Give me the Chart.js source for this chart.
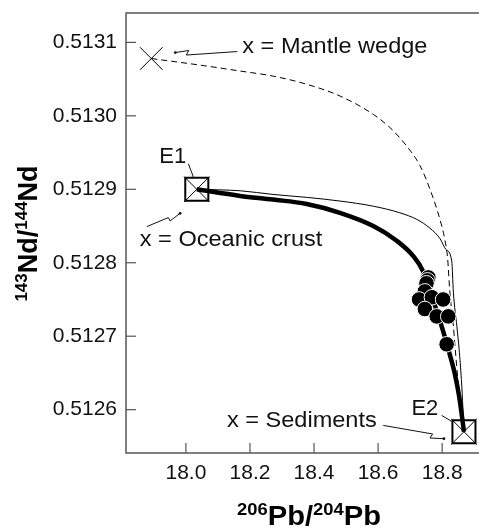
<!DOCTYPE html>
<html><head><meta charset="utf-8">
<script src="https://cdn.jsdelivr.net/npm/chart.js@4"></script>
<style>html,body{margin:0;padding:0;background:#fff;} #wrap{width:479px;height:528px;}</style>
</head><body>
<div id="wrap"><canvas id="c" width="479" height="528"></canvas></div>
<script>
// ---- tick labels / ranges ----
const xTicks = [18.0, 18.2, 18.4, 18.6, 18.8];
const yTicks = [0.5126, 0.5127, 0.5128, 0.5129, 0.5130, 0.5131];
const xRange = [17.813, 18.915];
const yRange = [0.512541, 0.51314];

// ---- end members ----
const mantleX = [17.892];
const mantleY = [0.513078];
const e1X = [18.034];
const e1Y = [0.5129];
const e2X = [18.868];
const e2Y = [0.51257];

// ---- mixing curves ----
const dashedX = [17.892, 18.045, 18.169, 18.273, 18.377, 18.481, 18.585, 18.637, 18.689, 18.731, 18.762, 18.793, 18.809, 18.817, 18.824, 18.835, 18.840, 18.849, 18.859, 18.868];
const dashedY = [0.513078, 0.513069, 0.513061, 0.513054, 0.513043, 0.513027, 0.513002, 0.512984, 0.512959, 0.512932, 0.512900, 0.512859, 0.512830, 0.512806, 0.512760, 0.512714, 0.512687, 0.512641, 0.512600, 0.512570];

const thinX = [18.034, 18.169, 18.272, 18.377, 18.481, 18.585, 18.668, 18.721, 18.762, 18.793, 18.812, 18.830, 18.835, 18.846, 18.853, 18.860, 18.865, 18.868];
const thinY = [0.512900, 0.512898, 0.512893, 0.512889, 0.512884, 0.512877, 0.512868, 0.512859, 0.512847, 0.512833, 0.512818, 0.512802, 0.512760, 0.512713, 0.512682, 0.512641, 0.512600, 0.512570];

const thickX = [18.034, 18.169, 18.272, 18.377, 18.481, 18.585, 18.658, 18.710, 18.741, 18.771, 18.803, 18.824, 18.840, 18.853, 18.866, 18.868];
const thickY = [0.512900, 0.512891, 0.512886, 0.512880, 0.512868, 0.512850, 0.512830, 0.512809, 0.512788, 0.512750, 0.512707, 0.512675, 0.512648, 0.512618, 0.512577, 0.512570];

// ---- samples ----
const sampleX = [18.757, 18.754, 18.751, 18.746, 18.728, 18.768, 18.803, 18.746, 18.783, 18.819, 18.814];
const sampleY = [0.512780, 0.512776, 0.512772, 0.512761, 0.512750, 0.512753, 0.512750, 0.512737, 0.512727, 0.512727, 0.512689];

const zip = (xs, ys) => xs.map((x, i) => ({x: x, y: ys[i]}));

const FONT = "'Liberation Sans', Arial, Helvetica, sans-serif";
const AXIS_GRAY = '#555';

function drawRich(ctx, parts, sx) {
  let total = 0;
  parts.forEach(p => { ctx.font = p.font; p.w = ctx.measureText(p.t).width; total += p.w; });
  ctx.save();
  ctx.scale(sx, 1);
  let x = -total / 2;
  ctx.textAlign = 'left';
  ctx.textBaseline = 'alphabetic';
  parts.forEach(p => { ctx.font = p.font; ctx.fillText(p.t, x, p.dy); x += p.w; });
  ctx.restore();
}

function annText(ctx, text, x, y, sx) {
  ctx.save();
  ctx.translate(x, y);
  ctx.scale(sx, 1);
  ctx.textAlign = 'left';
  ctx.textBaseline = 'alphabetic';
  ctx.fillText(text, 0, 0);
  ctx.restore();
}

function poly(ctx, pts) {
  ctx.beginPath();
  ctx.moveTo(pts[0][0], pts[0][1]);
  for (let i = 1; i < pts.length; i++) ctx.lineTo(pts[i][0], pts[i][1]);
  ctx.stroke();
}

function noPad(s) { s.paddingTop = 0; s.paddingBottom = 0; s.paddingLeft = 0; s.paddingRight = 0; }

const decor = {
  id: 'decor',
  afterDraw(chart) {
    const ctx = chart.ctx;
    const a = chart.chartArea;
    const xs = chart.scales.x, ys = chart.scales.y;
    ctx.save();
    // frame
    ctx.strokeStyle = AXIS_GRAY;
    ctx.lineWidth = 1.5;
    ctx.beginPath();
    ctx.moveTo(chart.width, a.top); ctx.lineTo(a.left, a.top);
    ctx.lineTo(a.left, a.bottom); ctx.lineTo(chart.width, a.bottom);
    ctx.stroke();
    // inward ticks
    ctx.lineWidth = 1.2;
    xTicks.forEach(v => {
      const p = xs.getPixelForValue(v);
      ctx.beginPath(); ctx.moveTo(p, a.bottom); ctx.lineTo(p, a.bottom - 10); ctx.stroke();
    });
    yTicks.forEach(v => {
      const p = ys.getPixelForValue(v);
      ctx.beginPath(); ctx.moveTo(a.left, p); ctx.lineTo(a.left + 10, p); ctx.stroke();
    });

    // annotations
    ctx.fillStyle = '#111';
    ctx.strokeStyle = '#111';
    ctx.lineWidth = 1;
    ctx.font = '22px ' + FONT;
    const mx = xs.getPixelForValue(mantleX[0]), my = ys.getPixelForValue(mantleY[0]);
    const ax = xs.getPixelForValue(e1X[0]), ay = ys.getPixelForValue(e1Y[0]);
    const bx = xs.getPixelForValue(e2X[0]), by = ys.getPixelForValue(e2Y[0]);

    annText(ctx, 'x = Mantle wedge', mx + 91, my - 6, 1.07);
    poly(ctx, [[mx + 86, my - 7], [mx + 35, my - 3.5], [mx + 37.5, my - 8], [mx + 24, my - 6]]);
    ctx.beginPath(); ctx.arc(mx + 24, my - 6, 1.4, 0, Math.PI * 2); ctx.fill();

    annText(ctx, 'E1', ax - 37.5, ay - 26.5, 1.0);
    poly(ctx, [[ax - 8.4, ay - 25.5], [ax - 3.4, ay - 12.3]]);
    annText(ctx, 'x = Oceanic crust', ax - 57, ay + 56.5, 1.07);
    poly(ctx, [[ax - 50, ay + 37.3], [ax - 28.4, ay + 28.3], [ax - 26.7, ay + 31.7], [ax - 16.7, ay + 24]]);
    ctx.beginPath(); ctx.arc(ax - 16.7, ay + 24, 1.4, 0, Math.PI * 2); ctx.fill();

    annText(ctx, 'E2', bx - 52.5, by - 16.3, 1.0);
    poly(ctx, [[bx - 22.3, by - 16.3], [bx - 12.3, by - 10.3]]);
    annText(ctx, 'x = Sediments', bx - 237, by - 5, 1.07);
    poly(ctx, [[bx - 80.7, by - 6.3], [bx - 31.3, by + 2.3], [bx - 34, by + 6.3], [bx - 20, by + 7]]);
    ctx.beginPath(); ctx.arc(bx - 20, by + 7, 1.4, 0, Math.PI * 2); ctx.fill();

    // axis titles
    ctx.fillStyle = '#000';
    const big = 'bold 27px ' + FONT, sup = 'bold 17px ' + FONT;
    ctx.save();
    ctx.translate(309, 525);
    drawRich(ctx, [{t: '206', font: sup, dy: -10}, {t: 'Pb/', font: big, dy: 0}, {t: '204', font: sup, dy: -10}, {t: 'Pb', font: big, dy: 0}], 1.08);
    ctx.restore();
    ctx.save();
    ctx.translate(37, 233.5);
    ctx.rotate(-Math.PI / 2);
    drawRich(ctx, [{t: '143', font: sup, dy: -10}, {t: 'Nd/', font: big, dy: 0}, {t: '144', font: sup, dy: -10}, {t: 'Nd', font: big, dy: 0}], 1.0);
    ctx.restore();
    ctx.restore();
  }
};

new Chart(document.getElementById('c'), {
  type: 'scatter',
  data: {
    datasets: [
      {label: 'Mantle wedge–sediments', data: zip(dashedX, dashedY), showLine: true, borderColor: '#000', borderWidth: 1, borderDash: [6, 4], pointRadius: 0, cubicInterpolationMode: 'monotone', fill: false, order: 5},
      {label: 'E1–E2 thin', data: zip(thinX, thinY), showLine: true, borderColor: '#000', borderWidth: 1, pointRadius: 0, cubicInterpolationMode: 'monotone', fill: false, order: 5},
      {label: 'E1–E2 thick', data: zip(thickX, thickY), showLine: true, borderColor: '#000', borderWidth: 4.5, pointRadius: 0, cubicInterpolationMode: 'monotone', fill: false, order: 4},
      {label: 'Samples', data: zip(sampleX, sampleY), pointStyle: 'circle', pointRadius: 7.8, backgroundColor: '#000', borderColor: '#fff', borderWidth: 1, order: 3},
      {label: 'Mantle wedge', data: zip(mantleX, mantleY), pointStyle: 'crossRot', pointRadius: 16, borderColor: '#000', borderWidth: 1, order: 2},
      {label: 'E1/E2 box', data: zip(e1X.concat(e2X), e1Y.concat(e2Y)), pointStyle: 'rect', pointRadius: 16.3, borderColor: '#000', backgroundColor: 'rgba(0,0,0,0)', borderWidth: 2, order: 1},
      {label: 'E1/E2 cross', data: zip(e1X.concat(e2X), e1Y.concat(e2Y)), pointStyle: 'crossRot', pointRadius: 18, borderColor: '#000', borderWidth: 1, order: 1}
    ]
  },
  options: {
    responsive: false,
    devicePixelRatio: 1,
    animation: false,
    events: [],
    layout: {autoPadding: false, padding: {top: 13, right: 0, left: 0, bottom: 0}},
    plugins: {legend: {display: false}, tooltip: {enabled: false}},
    scales: {
      x: {
        type: 'linear', min: xRange[0], max: xRange[1],
        grid: {display: false, drawTicks: false},
        border: {display: false},
        afterBuildTicks: s => { s.ticks = xTicks.map(v => ({value: v})); },
        afterFit: s => { s.height = 75; noPad(s); },
        ticks: {color: '#111', padding: 8, maxRotation: 0, autoSkip: false, font: {family: FONT, size: 21}, callback: v => v.toFixed(1)}
      },
      y: {
        type: 'linear', min: yRange[0], max: yRange[1],
        grid: {display: false, drawTicks: false},
        border: {display: false},
        afterBuildTicks: s => { s.ticks = yTicks.map(v => ({value: v})); },
        afterFit: s => { s.width = 126; noPad(s); },
        ticks: {color: '#111', padding: 9, autoSkip: false, font: {family: FONT, size: 21}, callback: v => v.toFixed(4)}
      }
    }
  },
  plugins: [decor]
});
</script>
</body></html>
